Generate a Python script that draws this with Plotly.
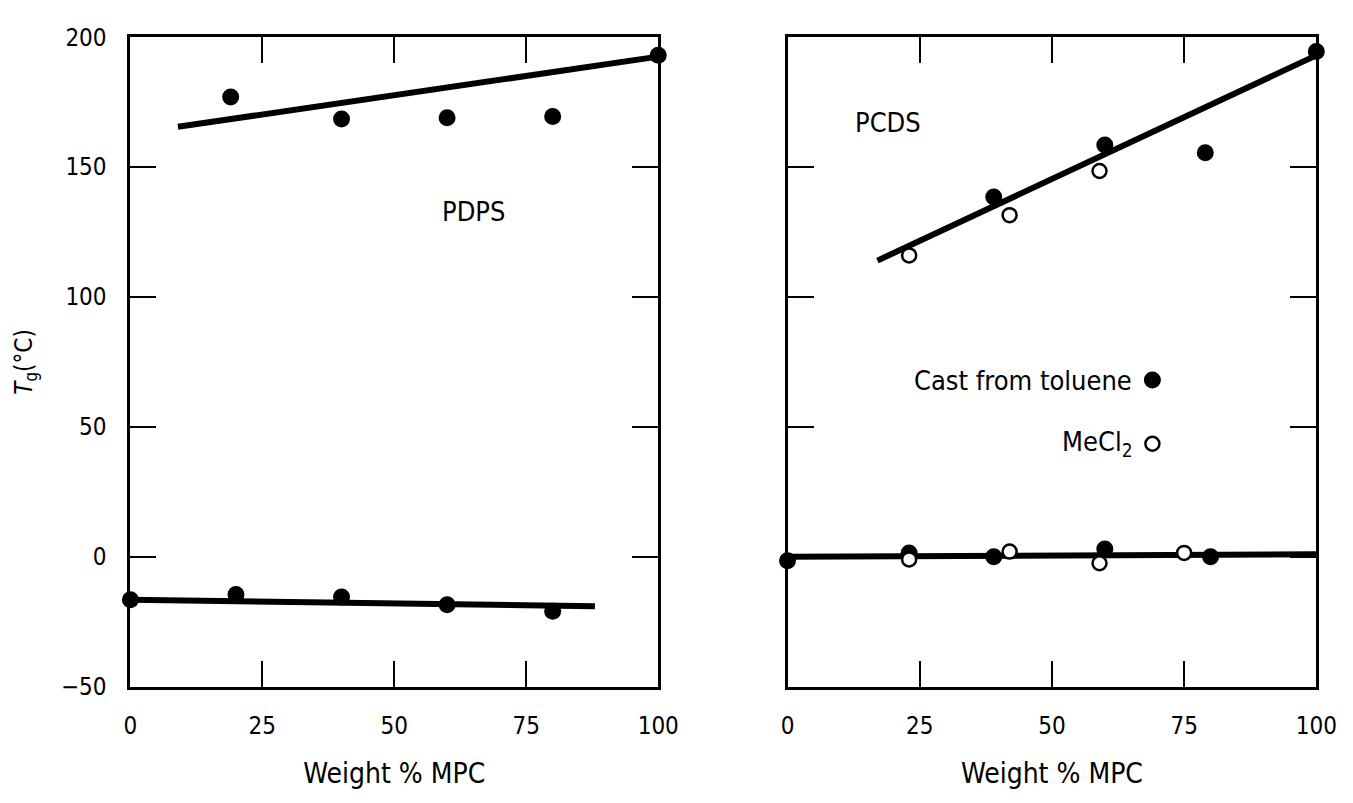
import plotly.graph_objects as go

# ---- data ----
# Left panel: PDPS
pdps_hi_x = [19, 40, 60, 80, 100]
pdps_hi_y = [177, 168.5, 169, 169.5, 193]
pdps_lo_x = [0, 20, 40, 60, 80]
pdps_lo_y = [-16.5, -14.5, -15.5, -18.5, -21]
pdps_hi_fit_x = [9, 100]
pdps_hi_fit_y = [165.5, 192.5]
pdps_lo_fit_x = [0, 88]
pdps_lo_fit_y = [-16.5, -19]

# Right panel: PCDS
pcds_tol_hi_x = [39, 60, 79, 100]
pcds_tol_hi_y = [138.5, 158.5, 155.5, 194.5]
pcds_mec_hi_x = [23, 42, 59]
pcds_mec_hi_y = [116, 131.5, 148.5]
pcds_tol_lo_x = [0, 23, 39, 60, 80]
pcds_tol_lo_y = [-1.5, 1.5, 0, 3, 0]
pcds_mec_lo_x = [23, 42, 59, 75]
pcds_mec_lo_y = [-1, 2, -2.5, 1.5]
pcds_hi_fit_x = [17, 100]
pcds_hi_fit_y = [114, 193]
pcds_lo_fit_x = [0, 100]
pcds_lo_fit_y = [0, 1]

x_ticks = [0, 25, 50, 75, 100]
y_ticks = [-50, 0, 50, 100, 150, 200]

FONT = "DejaVu Sans Condensed, DejaVu Sans, sans-serif"
W, H = 1353, 803

fig = go.Figure()

line_style = dict(color="black", width=6)
filled = dict(color="black", size=17, line=dict(width=0))
opened = dict(color="white", size=14, symbol="circle", line=dict(color="black", width=2.5))

# left panel
fig.add_trace(go.Scatter(x=pdps_hi_fit_x, y=pdps_hi_fit_y, mode="lines", line=line_style, xaxis="x", yaxis="y"))
fig.add_trace(go.Scatter(x=pdps_lo_fit_x, y=pdps_lo_fit_y, mode="lines", line=line_style, xaxis="x", yaxis="y"))
fig.add_trace(go.Scatter(x=pdps_hi_x, y=pdps_hi_y, mode="markers", marker=filled, xaxis="x", yaxis="y", cliponaxis=False))
fig.add_trace(go.Scatter(x=pdps_lo_x, y=pdps_lo_y, mode="markers", marker=filled, xaxis="x", yaxis="y", cliponaxis=False))

# right panel
fig.add_trace(go.Scatter(x=pcds_hi_fit_x, y=pcds_hi_fit_y, mode="lines", line=line_style, xaxis="x2", yaxis="y2"))
fig.add_trace(go.Scatter(x=pcds_lo_fit_x, y=pcds_lo_fit_y, mode="lines", line=line_style, xaxis="x2", yaxis="y2"))
fig.add_trace(go.Scatter(x=pcds_tol_hi_x, y=pcds_tol_hi_y, mode="markers", marker=filled, xaxis="x2", yaxis="y2", cliponaxis=False))
fig.add_trace(go.Scatter(x=pcds_tol_lo_x, y=pcds_tol_lo_y, mode="markers", marker=filled, xaxis="x2", yaxis="y2", cliponaxis=False))
fig.add_trace(go.Scatter(x=pcds_mec_hi_x, y=pcds_mec_hi_y, mode="markers", marker=opened, xaxis="x2", yaxis="y2", cliponaxis=False))
fig.add_trace(go.Scatter(x=pcds_mec_lo_x, y=pcds_mec_lo_y, mode="markers", marker=opened, xaxis="x2", yaxis="y2", cliponaxis=False))

# legend keys (drawn inside the right panel)
fig.add_trace(go.Scatter(x=[69], y=[68], mode="markers", marker=filled, xaxis="x2", yaxis="y2"))
fig.add_trace(go.Scatter(x=[69], y=[43.5], mode="markers", marker=opened, xaxis="x2", yaxis="y2"))

axis_common = dict(
    range=[0, 100], tickvals=x_ticks, ticks="inside", ticklen=26, tickwidth=2,
    tickcolor="black", showline=True, linecolor="black", linewidth=3, mirror="ticks",
    showgrid=False, zeroline=False, tickfont=dict(family=FONT, size=24, color="black"),
    ticklabelstandoff=16,
    title=dict(text="Weight % MPC", font=dict(family=FONT, size=28, color="black"), standoff=24),
)
yaxis_common = dict(
    range=[-50, 200], tickvals=y_ticks, ticks="inside", ticklen=26, tickwidth=2,
    tickcolor="black", showline=True, linecolor="black", linewidth=3, mirror="ticks",
    showgrid=False, zeroline=False, tickfont=dict(family=FONT, size=24, color="black"),
    ticklabelstandoff=16,
)

fig.update_layout(
    width=W, height=H, margin=dict(l=0, r=0, t=0, b=0),
    paper_bgcolor="white", plot_bgcolor="white", showlegend=False,
    xaxis=dict(domain=[126 / W, 665 / W], anchor="y", **axis_common),
    xaxis2=dict(domain=[797 / W, 1337 / W], anchor="y2", **axis_common),
    yaxis=dict(domain=[(H - 697) / H, (H - 24) / H], anchor="x", **yaxis_common,
               title=dict(text="<i>T</i><sub>g</sub>(°C)", font=dict(family=FONT, size=24, color="black"), standoff=22)),
    yaxis2=dict(domain=[(H - 697) / H, (H - 24) / H], anchor="x2", showticklabels=False, **yaxis_common),
    annotations=[
        dict(text="PDPS", x=65, y=133, xref="x", yref="y", showarrow=False,
             font=dict(family=FONT, size=27, color="black")),
        dict(text="PCDS", x=19, y=167, xref="x2", yref="y2", showarrow=False,
             font=dict(family=FONT, size=27, color="black")),
        dict(text="Cast from toluene", x=65.5, y=68, xref="x2", yref="y2", xanchor="right",
             showarrow=False, font=dict(family=FONT, size=27, color="black")),
        dict(text="MeCl<sub>2</sub>", x=65.5, y=43.5, xref="x2", yref="y2", xanchor="right",
             showarrow=False, font=dict(family=FONT, size=27, color="black")),
    ],
)

fig.write_html(
    "out.html",
    config={"displayModeBar": False},
    post_script="document.body.style.margin='0';document.body.style.overflow='hidden';",
)
